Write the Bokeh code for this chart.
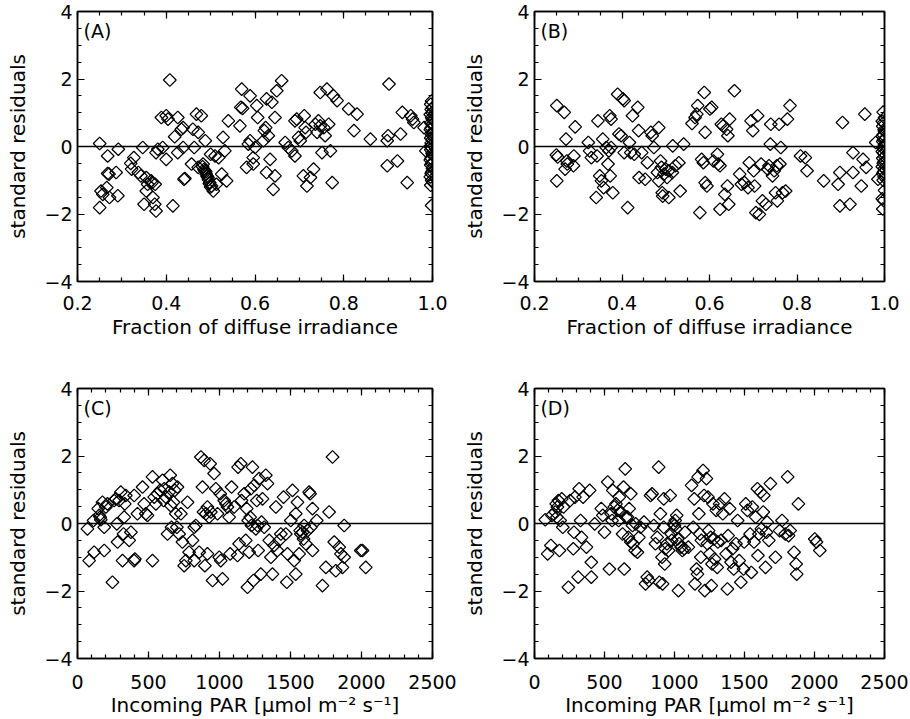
import math
from bokeh.plotting import figure
from bokeh.layouts import row, column
from bokeh.models import (Span, Label, LinearAxis, SingleIntervalTicker,
                          CustomJSTickFormatter, Range1d)
from bokeh.embed import file_html
from bokeh.resources import INLINE

FONT = "DejaVu Sans"

# ---------------- data ----------------
frac_A = [0.25, 0.25, 0.253, 0.257, 0.268, 0.268, 0.271, 0.266, 0.272, 0.291, 0.287, 0.292,
          0.32, 0.322, 0.327, 0.337, 0.343, 0.347, 0.35, 0.355, 0.355, 0.358, 0.366, 0.37,
          0.374, 0.377, 0.375, 0.377, 0.381, 0.368, 0.389, 0.392, 0.4, 0.4, 0.408, 0.404,
          0.415, 0.419, 0.426, 0.426, 0.434, 0.438, 0.438, 0.44, 0.442, 0.457, 0.46, 0.463,
          0.468, 0.472, 0.472, 0.479, 0.483, 0.487, 0.488, 0.49, 0.494, 0.498, 0.5, 0.502,
          0.506, 0.51, 0.513, 0.518, 0.525, 0.528, 0.532, 0.536, 0.54, 0.566, 0.568, 0.57,
          0.572, 0.581, 0.585, 0.589, 0.589, 0.596, 0.596, 0.6, 0.604, 0.606, 0.619, 0.621,
          0.624, 0.626, 0.626, 0.63, 0.634, 0.638, 0.641, 0.645, 0.645, 0.649, 0.66, 0.668,
          0.675, 0.683, 0.69, 0.69, 0.694, 0.698, 0.702, 0.709, 0.711, 0.713, 0.715, 0.717,
          0.725, 0.732, 0.736, 0.74, 0.743, 0.747, 0.747, 0.751, 0.755, 0.758, 0.762, 0.766,
          0.77, 0.774, 0.777, 0.785, 0.811, 0.823, 0.83, 0.86, 0.898, 0.9, 0.902, 0.898,
          0.921, 0.928, 0.932, 0.943, 0.951, 0.955, 0.958, 0.981, 0.985,
          0.482, 0.485, 0.489, 0.492, 0.495, 0.497, 0.5,
          0.998, 0.996, 1.0, 0.997, 0.999, 0.995, 0.998, 1.0, 0.996, 0.999, 0.997, 0.995,
          1.0, 0.998, 0.996, 0.999, 0.997, 1.0, 0.995, 0.998, 0.996, 0.999, 1.0, 0.997,
          0.995, 0.998, 0.996, 1.0, 0.999, 0.997, 0.995, 0.998, 1.0, 0.996, 0.998]
resid_A = [0.09, -1.81, -1.32, -1.42, -0.28, -0.8, -0.82, -1.22, -1.51, -1.46, -0.77, -0.08,
           -0.5, -0.67, -0.33, -0.77, -0.87, -0.03, -1.71, -0.92, -1.32, -1.12, -1.02, -1.51,
           -1.71, -1.91, -1.12, -0.18, -0.08, -1.07, 0.86, -0.03, -0.38, 0.91, 1.97, 0.81,
           -1.76, 0.29, 0.86, -0.18, 0.51, 0.56, -0.03, -0.97, -0.95, -0.52, 0.51, -0.03,
           0.96, 0.42, -0.62, 0.91, -0.52, -0.72, 0.17, -0.82, -0.92, -1.07, -0.23, -1.17,
           -1.32, -0.28, -1.12, -0.33, -0.82, 0.27, -0.13, -1.02, 0.76, 0.61, 1.16, 1.7,
           1.13, -0.62, 0.07, 1.5, 0.17, -0.52, -0.33, -0.03, 1.21, 0.86, 0.17, 0.47,
           0.56, 1.41, -0.77, 0.32, -0.38, 1.31, -1.27, -0.87, 0.86, 1.65, 1.95, 0.12,
           -0.03, -0.13, -0.28, 0.76, 0.81, 0.27, 0.17, -0.87, 0.91, 0.56, 0.42, -1.17,
           -0.92, -0.67, 0.66, 0.42, 0.76, 0.61, 1.6, -0.18, 0.56, 0.32, 1.7, 0.66,
           -0.13, -1.07, 1.5, 1.36, 1.11, 0.47, 0.96, 0.22, 0.17, 0.32, 1.85, -0.57,
           -0.43, 0.37, 1.01, -1.07, 0.91, 0.81, 0.71, 0.56, -0.13,
           -0.6, -0.68, -0.75, -0.88, -0.98, -1.1, -1.2,
           1.35, 1.25, 1.15, 1.1, 1.0, 0.95, 0.85, 0.8, 0.7, 0.65, 0.55, 0.5,
           0.4, 0.35, 0.25, 0.2, 0.1, 0.05, 0.0, -0.05, -0.1, -0.2, -0.25, -0.35,
           -0.4, -0.5, -0.55, -0.65, -0.75, -0.8, -0.9, -1.0, -1.05, -1.15, -1.75]

frac_B = [0.251, 0.251, 0.25, 0.253, 0.268, 0.27, 0.272, 0.274, 0.275, 0.289, 0.293, 0.29,
          0.323, 0.326, 0.33, 0.341, 0.345, 0.343, 0.349, 0.353, 0.356, 0.358, 0.364, 0.368,
          0.37, 0.372, 0.373, 0.375, 0.375, 0.379, 0.39, 0.393, 0.398, 0.402, 0.405, 0.405,
          0.413, 0.417, 0.42, 0.424, 0.428, 0.436, 0.438, 0.439, 0.445, 0.453, 0.458, 0.466,
          0.469, 0.473, 0.481, 0.484, 0.484, 0.488, 0.49, 0.492, 0.493, 0.496, 0.5, 0.503,
          0.507, 0.507, 0.515, 0.516, 0.522, 0.53, 0.533, 0.541, 0.56, 0.567, 0.571, 0.573,
          0.578, 0.582, 0.586, 0.588, 0.59, 0.59, 0.594, 0.601, 0.605, 0.609, 0.618, 0.62,
          0.624, 0.624, 0.627, 0.631, 0.635, 0.639, 0.641, 0.642, 0.644, 0.646, 0.657, 0.669,
          0.673, 0.68, 0.688, 0.691, 0.695, 0.699, 0.701, 0.703, 0.706, 0.71, 0.714, 0.718,
          0.721, 0.729, 0.733, 0.736, 0.739, 0.74, 0.744, 0.748, 0.751, 0.754, 0.755, 0.759,
          0.761, 0.763, 0.767, 0.774, 0.778, 0.784, 0.808, 0.819, 0.823, 0.861, 0.894, 0.898,
          0.898, 0.904, 0.921, 0.928, 0.928, 0.947, 0.951, 0.955, 0.958, 0.98, 0.985,
          0.997, 1.0, 0.995, 0.998, 0.996, 0.999, 1.0, 0.997, 0.995, 0.998, 0.996, 1.0,
          0.999, 0.997, 0.995, 0.998, 1.0, 0.996, 0.999, 0.997, 0.995, 1.0, 0.998, 0.996,
          0.999, 0.997, 1.0, 0.995, 0.998, 0.996]
resid_B = [1.21, -1.02, -0.25, -0.31, 1.01, -0.67, 0.22, -0.43, -0.52, -0.57, 0.58, -0.28,
           0.12, -0.13, -0.33, -1.51, 0.76, -0.28, -0.87, -1.02, 0.22, -1.22, -0.03, -0.52,
           -0.13, 0.91, -0.87, 0.81, -0.03, -1.37, 1.55, 0.37, 0.32, 1.41, 1.36, -0.18,
           -1.81, 0.12, -0.18, 0.91, -0.23, 1.16, 0.47, -0.92, -0.18, -0.97, -0.48, 0.42,
           0.32, -0.03, -0.77, -1.02, 0.56, -0.43, -0.62, -1.37, -1.47, -0.82, -0.67, -0.92,
           -1.51, -0.72, -0.77, 0.02, -0.57, -0.48, -1.32, 0.07, 0.68, 0.86, 0.96, 1.21,
           -1.96, -0.38, -0.48, 1.6, 0.42, -1.07, -1.17, 1.11, 1.16, -0.43, -0.23, -0.52,
           -0.57, -1.86, 0.66, 0.61, -1.42, 0.51, -1.17, 0.32, -1.71, 0.81, 1.65, -0.82,
           -1.12, -1.07, -1.22, -0.48, 0.76, 0.47, -0.72, -1.17, -1.96, 0.91, -2.01, -0.52,
           -1.61, -1.71, -0.67, -0.57, 0.07, 0.66, -0.87, -0.72, -1.37, -0.57, -1.61, 0.66,
           -0.52, -0.03, -1.37, -1.32, 0.81, 1.21, -0.28, -0.33, -0.72, -1.02, -1.12, -0.77,
           -1.76, 0.71, -1.71, -0.18, -0.77, -1.17, -0.38, 0.96, -0.62, 0.12, -0.97,
           1.02, 0.85, 0.75, 0.7, 0.6, 0.5, 0.45, 0.35, 0.3, 0.2, 0.15, 0.05,
           0.0, -0.05, -0.15, -0.2, -0.3, -0.35, -0.45, -0.5, -0.6, -0.65, -0.75, -0.8,
           -0.9, -1.0, -1.3, -1.55, -1.6, -1.85]

par_C = [70, 82, 113, 117, 146, 153, 160, 164, 176, 188, 188, 200, 211, 246, 258, 270, 277,
         282, 293, 305, 317, 324, 329, 333, 340, 364, 376, 399, 404, 399, 422, 458, 469, 481,
         493, 528, 528, 540, 552, 563, 582, 599, 606, 610, 622, 634, 646, 653, 657, 662, 669,
         676, 685, 692, 700, 704, 716, 728, 739, 751, 763, 775, 786, 810, 822, 822, 833, 857,
         869, 880, 887, 892, 897, 904, 915, 915, 927, 934, 939, 951, 962, 974, 986, 998, 1005,
         1009, 1021, 1033, 1045, 1056, 1068, 1075, 1085, 1103, 1127, 1131, 1138, 1150, 1155,
         1174, 1185, 1192, 1197, 1202, 1209, 1216, 1221, 1225, 1232, 1239, 1244, 1256, 1263,
         1268, 1272, 1279, 1291, 1296, 1303, 1315, 1326, 1338, 1350, 1362, 1373, 1385, 1397,
         1408, 1420, 1432, 1451, 1467, 1474, 1479, 1502, 1514, 1526, 1537, 1537, 1549, 1561,
         1568, 1573, 1585, 1592, 1596, 1608, 1620, 1631, 1638, 1643, 1655, 1655, 1685, 1725,
         1749, 1772, 1796, 1808, 1819, 1843, 1855, 1866, 1878, 1878, 1995, 2007, 2030]
resid_C = [-0.16, -1.1, 0.09, -0.85, 0.44, 0.24, 0.19, 0.11, 0.63, -0.8, -0.11, 0.49, 0.58,
           -1.74, 0.68, 0.73, -0.01, -0.55, 0.68, 0.93, -1.1, -0.31, 0.19, 0.58, 0.83, -0.5,
           -0.26, -1.1, -1.05, 0.83, 0.29, 1.08, 0.58, 0.29, 0.24, -1.1, 1.38, 0.78, 0.58,
           0.88, 0.98, 1.28, 0.68, 1.03, 0.78, -0.31, 0.93, 1.43, 0.53, -0.11, 1.18, 0.63,
           0.98, 0.29, -0.11, 1.08, -0.31, 0.29, -0.55, -1.25, -1.1, 0.63, -0.85, -0.5,
           -0.11, -1.1, -0.06, -0.85, 1.97, 1.08, 0.34, 1.87, -1.25, 0.29, 0.49, -0.9, 0.19,
           1.77, 0.34, -1.69, 1.48, 1.03, 0.29, -1.0, 0.88, -1.1, -1.64, 0.68, 0.58, 0.49,
           0.19, -0.9, 1.08, 0.49, -0.95, 1.67, -0.6, 1.77, 0.68, 0.88, -0.5, 0.44, -1.89,
           0.09, -0.85, 0.19, 1.03, -0.06, 1.67, -1.69, 1.13, -0.16, 0.68, -0.06, -0.8, 1.33,
           -1.5, 0.04, 0.73, -0.11, 1.43, 1.18, -0.5, -1.0, -1.5, -0.65, 0.49, -0.8, -0.5,
           -0.31, 0.78, -0.31, -1.74, -0.9, 0.09, 0.98, -1.1, -1.5, 0.29, 0.63, -0.9, -0.21,
           -0.31, -0.26, -0.46, -0.06, -0.6, -0.21, 0.93, 0.88, -0.11, 0.44, -0.8, 0.09,
           -1.84, -1.3, 0.34, 1.97, -0.55, -1.4, -0.7, -0.9, -1.3, -0.06, -1.0, -0.8, -0.8,
           -1.3]

par_D = [77, 94, 117, 124, 148, 155, 160, 164, 171, 178, 183, 195, 202, 207, 242, 254, 277,
         282, 289, 312, 319, 329, 336, 347, 371, 394, 406, 406, 430, 477, 488, 500, 523, 535,
         547, 554, 559, 570, 582, 594, 601, 606, 617, 629, 636, 641, 648, 653, 664, 671, 676,
         688, 688, 700, 704, 718, 723, 735, 746, 758, 782, 793, 805, 817, 829, 840, 852, 864,
         876, 887, 892, 899, 911, 915, 923, 923, 930, 934, 946, 958, 969, 977, 981, 993,
         1000, 1005, 1009, 1016, 1023, 1028, 1033, 1047, 1056, 1070, 1075, 1099, 1122, 1134,
         1141, 1146, 1157, 1164, 1169, 1174, 1181, 1188, 1192, 1204, 1211, 1216, 1228, 1235,
         1239, 1244, 1251, 1258, 1263, 1268, 1275, 1282, 1286, 1298, 1305, 1310, 1322, 1333,
         1345, 1357, 1369, 1378, 1383, 1394, 1404, 1415, 1423, 1439, 1451, 1462, 1474, 1493,
         1498, 1509, 1521, 1540, 1549, 1556, 1568, 1580, 1592, 1596, 1603, 1615, 1620, 1634,
         1638, 1650, 1657, 1662, 1674, 1685, 1721, 1751, 1768, 1791, 1808, 1815, 1826, 1854,
         1869, 1873, 1885, 2002, 2014, 2038]
resid_D = [0.11, -0.9, -0.65, 0.24, 0.34, 0.58, 0.19, 0.49, 0.68, -0.8, 0.09, 0.73, -0.11,
           0.49, -1.89, 0.68, -0.75, -0.26, 0.78, -1.59, 1.03, 0.09, -0.41, 0.78, -0.7, 0.98,
           -1.59, -1.15, -0.01, 0.44, 0.24, -0.26, 1.23, -1.35, 0.29, 0.09, 0.98, 0.49, 0.58,
           0.39, 0.09, 0.78, 0.34, -0.31, 1.08, -1.35, 1.62, 0.19, 0.19, -0.41, 0.44, 0.88,
           -0.55, -0.06, -0.6, -0.8, -0.01, -0.85, -0.41, -0.11, 0.04, -1.79, -1.59, -1.69,
           0.83, 0.88, -0.06, -0.6, -0.41, 1.67, -1.74, 0.29, -1.0, -1.79, 0.73, -0.11, -1.2,
           -0.75, -0.6, -0.8, 0.83, -0.31, -0.5, -0.01, -0.06, 0.09, -0.16, 0.24, -0.46,
           -1.99, -0.6, -0.7, -0.8, -0.75, -0.26, -0.7, 1.13, -0.11, 0.73, -1.79, -1.35, -1.5,
           1.38, 0.29, -0.31, -1.0, -0.5, 1.57, 0.83, -1.99, 1.33, -0.6, 0.78, -0.21, -0.9,
           -0.41, -1.84, -1.2, 0.58, -0.46, -1.05, 0.39, -1.3, -0.55, 0.58, -0.5, 0.29, 0.73,
           -0.9, -1.94, -0.36, 0.44, -1.15, -0.75, -1.35, -0.6, 0.09, -1.1, -1.74, -1.35,
           -0.55, 0.58, 0.39, -0.31, -1.45, 0.49, -0.55, 0.19, 1.03, -0.95, -0.31, 0.93, -0.16,
           0.34, 0.83, -1.3, -0.26, 0.04, -0.5, 1.18, -1.0, -0.21, 0.09, -0.31, 1.38, -0.36,
           -0.21, -0.85, -1.2, -1.5, 0.58, -0.46, -0.55, -0.8]

panel_tags = ["(A)", "(B)", "(C)", "(D)"]
y_title = "standard residuals"
x_title_top = "Fraction of diffuse irradiance"
x_title_bottom = "Incoming PAR [\u03bcmol m\u207b\u00b2 s\u207b\u00b9]"

TICK_FS = "19px"
TITLE_FS = "20px"

y_fmt_code = "return tick < 0 ? '\\u2212' + Math.abs(tick).toString() : tick.toString();"


def style_axis(ax, show_labels):
    ax.axis_line_color = "black"
    ax.axis_line_width = 1.5
    ax.major_tick_line_color = "black"
    ax.minor_tick_line_color = "black"
    ax.major_tick_line_width = 1.2
    ax.minor_tick_line_width = 1.2
    ax.major_tick_in = 7
    ax.major_tick_out = 0
    ax.minor_tick_in = 4
    ax.minor_tick_out = 0
    ax.major_label_text_font = FONT
    ax.axis_label_text_font = FONT
    ax.axis_label_text_font_style = "normal"
    ax.axis_label_text_font_size = TITLE_FS
    ax.axis_label_text_color = "black"
    if show_labels:
        ax.major_label_text_font_size = TICK_FS
        ax.major_label_text_color = "black"
    else:
        # mirrored tick marks only: labels are not drawn at all
        ax.major_label_text_font_size = "1px"
        ax.major_label_text_color = None
        ax.major_label_standoff = 0


def make_panel(xs, ys, xr, xint, xminor, xfmt_code, xtitle, tag, tag_x,
               width, height, bl, br, bt, bb, lab_standoff, title_standoff):
    p = figure(width=width, height=height, x_range=Range1d(*xr), y_range=Range1d(-4, 4),
               output_backend="svg", toolbar_location=None,
               x_axis_location=None, y_axis_location=None,
               min_border_left=bl, min_border_right=br,
               min_border_top=bt, min_border_bottom=bb)
    p.background_fill_color = "white"
    p.border_fill_color = "white"
    p.outline_line_color = "black"
    p.outline_line_width = 1.5
    p.grid.visible = False

    axes = {}
    for side in ["below", "above", "left", "right"]:
        if side in ("below", "above"):
            t = SingleIntervalTicker(interval=xint, num_minor_ticks=xminor)
            ax = LinearAxis(ticker=t, formatter=CustomJSTickFormatter(code=xfmt_code))
        else:
            t = SingleIntervalTicker(interval=2, num_minor_ticks=4)
            ax = LinearAxis(ticker=t, formatter=CustomJSTickFormatter(code=y_fmt_code))
        style_axis(ax, side in ("below", "left"))
        p.add_layout(ax, side)
        axes[side] = ax

    axes["below"].axis_label = xtitle
    axes["below"].major_label_standoff = lab_standoff
    axes["below"].axis_label_standoff = title_standoff
    axes["left"].axis_label = y_title
    axes["left"].major_label_standoff = 5
    axes["left"].axis_label_standoff = 11

    p.add_layout(Span(location=0, dimension="width", line_color="black", line_width=1.3))

    p.scatter(xs, ys, marker="square", angle=math.pi / 4, size=9,
              fill_color=None, line_color="black", line_width=1.25)

    p.add_layout(Label(x=tag_x, y=3.43, text=tag, text_font=FONT, text_font_size="19px",
                       text_color="black", text_baseline="middle", text_align="left"))
    return p


frac_fmt = "return tick.toFixed(1);"
par_fmt = "return Math.round(tick).toString();"

pA = make_panel(frac_A, resid_A, (0.2, 1.0), 0.2, 4, frac_fmt, x_title_top, panel_tags[0], 0.2135,
                460, 358, 77, 28, 11, 77, 14, 2)
pB = make_panel(frac_B, resid_B, (0.2, 1.0), 0.2, 4, frac_fmt, x_title_top, panel_tags[1], 0.2135,
                450, 358, 69, 26, 11, 77, 14, 2)
pC = make_panel(par_C, resid_C, (0, 2500), 500, 5, par_fmt, x_title_bottom, panel_tags[2], 42,
                460, 361, 77, 28, 30, 61, 16, 1)
pD = make_panel(par_D, resid_D, (0, 2500), 500, 5, par_fmt, x_title_bottom, panel_tags[3], 42,
                450, 361, 69, 26, 30, 61, 16, 1)

layout = column(row(pA, pB), row(pC, pD))
open("out.html", "w").write(file_html(layout, INLINE))
